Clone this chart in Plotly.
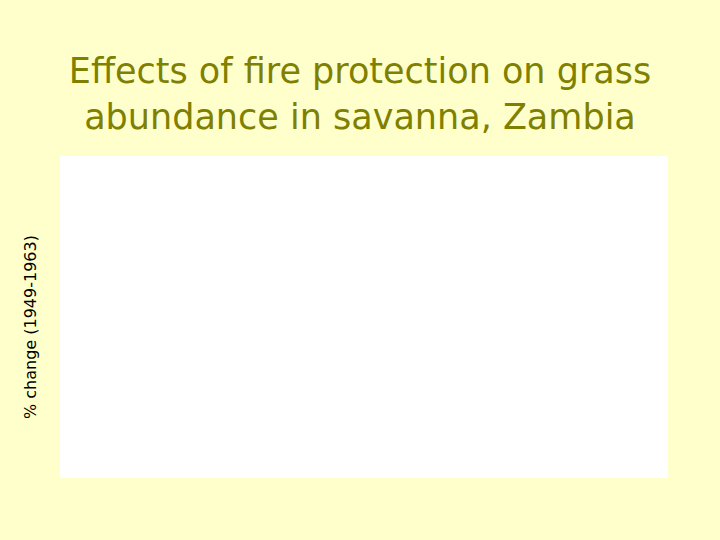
import plotly.graph_objects as go

# the slide shows an empty plot area: no bars were drawn
treatments = []
pct_change = []

title_text = "Effects of fire protection on grass<br>abundance in savanna, Zambia"
y_label = "% change (1949-1963)"

fig = go.Figure(go.Bar(x=treatments, y=pct_change, marker_color="#808000"))

fig.update_layout(
    width=720, height=540,
    margin=dict(l=60, r=52, t=156, b=62),
    paper_bgcolor="#FFFFCC",
    plot_bgcolor="white",
    showlegend=False,
    title=dict(text=title_text, x=0.5, xanchor="center",
               y=1 - 83 / 540, yanchor="middle",
               font=dict(family="DejaVu Sans", size=35, color="#808000")),
    annotations=[dict(text=y_label, xref="paper", yref="paper", x=0, y=0.5,
                      xanchor="center", yanchor="middle",
                      xshift=-30, yshift=-10, textangle=-90, showarrow=False,
                      font=dict(family="Verdana, DejaVu Sans", size=16, color="black"))],
)
fig.update_xaxes(visible=False)
fig.update_yaxes(visible=False)

fig.write_html("out.html", config={"displayModeBar": False},
               post_script="document.body.style.margin='0';")
